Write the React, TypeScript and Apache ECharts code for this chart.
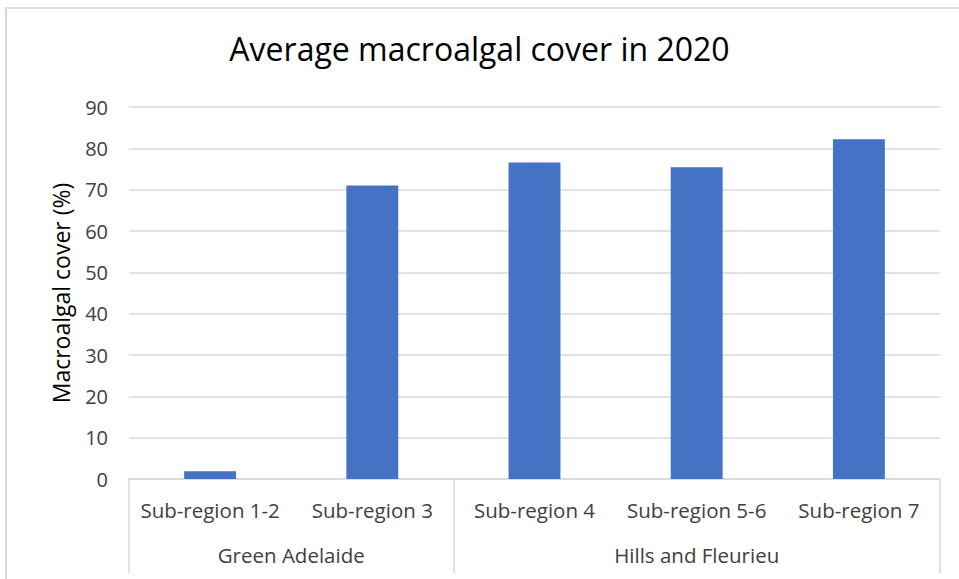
import React, { useEffect, useRef } from "react";
import * as echarts from "echarts";

const categories = ["Sub-region 1-2", "Sub-region 3", "Sub-region 4", "Sub-region 5-6", "Sub-region 7"];
const values = [1.9, 71.0, 76.6, 75.4, 82.2];
const groups = ["Green Adelaide", "Hills and Fleurieu"];
const groupSizes = [2, 3];
const yTicks = [0, 10, 20, 30, 40, 50, 60, 70, 80, 90];

const FONT = "'Open Sans', 'Noto Sans', sans-serif";

export default function App() {
  const ref = useRef<HTMLDivElement>(null);
  useEffect(() => {
    if (!ref.current) return;
    const chart = echarts.init(ref.current, undefined, { renderer: "svg" });
    const boundaries: number[] = [0];
    const centers: number[] = [];
    groupSizes.forEach((s) => {
      const start = boundaries[boundaries.length - 1];
      centers.push(start + s / 2);
      boundaries.push(start + s);
    });
    chart.setOption({
      animation: false,
      textStyle: { fontFamily: FONT },
      title: {
        text: "Average macroalgal cover in 2020",
        left: "center",
        top: 27,
        textStyle: { fontFamily: FONT, fontSize: 32, fontWeight: "normal", color: "#000" },
      },
      graphic: [
        {
          type: "rect",
          shape: { x: 6, y: 8, width: 1000, height: 600 },
          style: { fill: "none", stroke: "#d9d9d9", lineWidth: 2 },
          silent: true,
        },
      ],
      grid: { left: 129, right: 19, top: 107, bottom: 100, containLabel: false },
      xAxis: [
        {
          type: "category",
          data: categories,
          position: "bottom",
          axisLine: { show: true, lineStyle: { color: "#d9d9d9", width: 1.5 } },
          axisTick: { show: false },
          axisLabel: { color: "#404040", fontSize: 20.5, margin: 20, fontFamily: FONT, interval: 0 },
        },
        {
          type: "value",
          min: 0,
          max: categories.length,
          position: "bottom",
          offset: 0,
          splitLine: { show: false },
          axisLine: { show: false },
          axisTick: {
            show: true,
            customValues: boundaries,
            length: 94,
            inside: false,
            lineStyle: { color: "#d9d9d9", width: 1.5 },
          },
          axisLabel: {
            customValues: centers,
            color: "#404040",
            fontSize: 20.5,
            margin: 65,
            fontFamily: FONT,
            formatter: (v: number) => groups[centers.indexOf(v)] ?? "",
          },
        },
      ],
      yAxis: {
        type: "value",
        min: yTicks[0],
        max: yTicks[yTicks.length - 1],
        interval: 10,
        name: "Macroalgal cover (%)",
        nameLocation: "middle",
        nameGap: 57,
        nameTextStyle: { fontSize: 23, color: "#000", fontFamily: FONT },
        axisLine: { show: false },
        axisTick: { show: false },
        axisLabel: { color: "#404040", fontSize: 20, margin: 21, fontFamily: FONT },
        splitLine: { lineStyle: { color: "#d9d9d9", width: 1.5 } },
      },
      series: [
        {
          type: "bar",
          data: values,
          xAxisIndex: 0,
          barCategoryGap: "68%",
          itemStyle: { color: "#4472C4" },
        },
      ],
    });
    return () => chart.dispose();
  }, []);
  return (
    <div
      ref={ref}
      style={{ position: "absolute", left: 0, top: 0, width: 959, height: 579, background: "#fff" }}
    />
  );
}
